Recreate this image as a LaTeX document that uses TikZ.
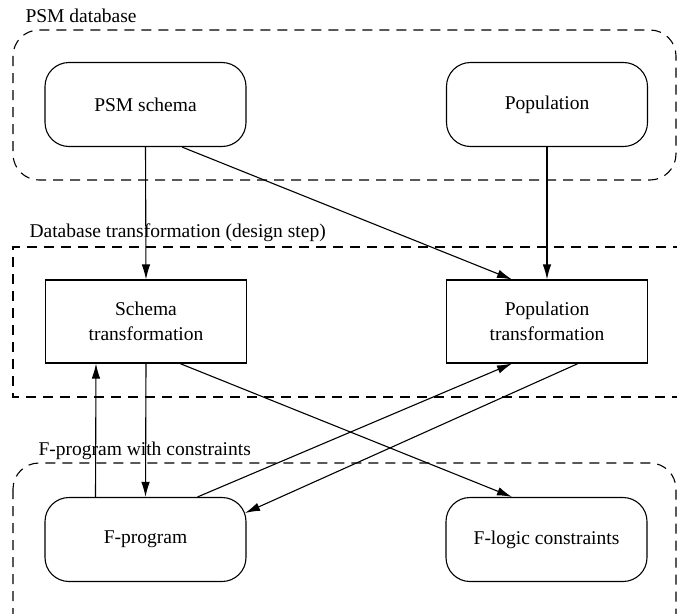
\documentclass[tikz,border=0pt]{standalone}
\usepackage{fontspec}
\setmainfont{Liberation Serif}
\usetikzlibrary{arrows.meta}
\begin{document}
\begin{tikzpicture}[x=1pt,y=-1pt,line width=1.1pt,
  font=\fontsize{19.5}{25}\selectfont,
  roundbox/.style={draw,rounded corners=24pt,minimum width=201pt,minimum height=84pt,inner sep=0pt,align=center},
  sqbox/.style={draw,minimum width=201pt,minimum height=83pt,inner sep=0pt,align=center},
  region/.style={draw,dash pattern=on 10pt off 7pt,line width=1.1pt},
  conn/.style={draw,-{Latex[length=15pt,width=8.5pt]}},
  lbl/.style={anchor=base west,inner sep=0pt}]
\useasboundingbox (0,0) rectangle (677,613);
\clip (0,0) rectangle (677,613);
% regions
\draw[region,rounded corners=26pt] (13,30) rectangle (676,180);
\draw[region] (700,247) -- (13,247) -- (13,397) -- (700,397);
\draw[region,rounded corners=26pt] (13,463) rectangle (676,650);
% labels
\node[lbl] (l1) at (25,22) {PSM database};
\node[lbl] (l2) at (29,237) {Database transformation (design step)};
\node[lbl] (l3) at (38,455) {F-program with constraints};
% nodes
\node[roundbox] (psm) at (145.5,104.5) {PSM schema};
\node[roundbox] (pop) at (547,104.5) {Population};
\node[sqbox] (st) at (146,321.5) {Schema\\transformation};
\node[sqbox] (pt) at (547,321.5) {Population\\transformation};
\node[roundbox] (fp) at (145.5,539.5) {F-program};
\node[roundbox] (fl) at (546.5,539.5) {F-logic constraints};
% connectors
\draw[conn] (psm.south) -- (st.north);
\draw[conn] ([xshift=36.5pt]psm.south) -- ([xshift=-35pt]pt.north);
\draw[conn] (pop.south) -- (pt.north);
\draw[conn] (st.south) -- (fp.north);
\draw[conn] ([xshift=-50pt]fp.north) -- ([xshift=-50pt]st.south);
\draw[conn] ([xshift=52pt]fp.north) -- ([xshift=-35pt]pt.south);
\draw[conn] ([xshift=31pt]pt.south) -- ([xshift=-1.5pt,yshift=26.5pt]fp.east);
\draw[conn] ([xshift=34pt]st.south) -- ([xshift=-34.5pt]fl.north);
\end{tikzpicture}
\end{document}
